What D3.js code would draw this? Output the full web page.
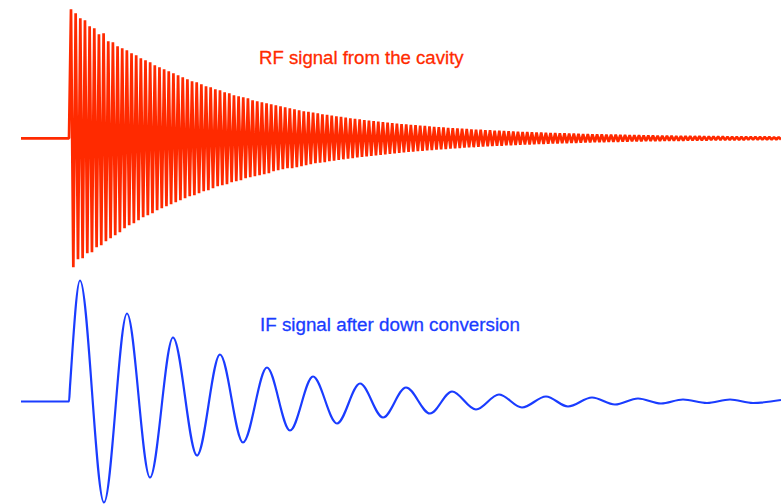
<!DOCTYPE html>
<html>
<head>
<meta charset="utf-8">
<script src="https://cdn.jsdelivr.net/npm/d3@7/dist/d3.min.js"></script>
<style>
  html, body { margin: 0; padding: 0; background: #fff; }
  svg { display: block; }
</style>
</head>
<body>
<svg id="chart" width="781" height="504"></svg>
<script>
// ---------------- data ----------------
// time axis (arbitrary ns), shared by both traces
const timeDomain = [0, 76];

// RF trace: flat lead-in, then alternating positive / negative extrema (one per half-cycle)
const rfLeadTime  = [0, 4.8];
const rfLeadValue = [0, 0];
const rfSampleSpan = [5.0, 76.0];   // time of the first and the last extremum
const rfSamples = [
  129,-129, 125,-121, 120,-120, 118,-115, 112,-114, 110,-109, 104,-107, 105,-103, 97,-100, 96,-97,
  92,-94, 90,-90, 88,-87, 85,-85, 83,-82, 80,-79, 78,-77, 76,-75, 73,-72, 71,-70,
  69,-68, 67,-66, 65,-64, 63,-62, 61,-60, 59,-58, 57,-57, 56,-55, 54,-53, 52,-52,
  51,-50, 49,-48, 48,-47, 46,-46, 45,-44, 43,-43, 42,-42, 41,-40, 40,-39, 38,-38,
  37,-37, 36,-36, 35,-35, 34,-33, 33,-32, 32,-31, 31,-30, 30,-30, 29,-29, 28,-28,
  27,-27, 26.5,-26, 25.7,-25, 25,-24.5, 24,-24, 23.4,-23, 22.7,-22.4, 22,-21.7, 21.4,-21, 20.7,-20.4,
  20,-19.8, 19.5,-19.2, 19,-18.6, 18.3,-18, 17.8,-17.5, 17.2,-17, 16.7,-16.5, 16.2,-16, 15.7,-15.5, 15.2,-15,
  14.8,-14.5, 14.3,-14.1, 13.9,-13.7, 13.5,-13.3, 13.1,-12.9, 12.7,-12.5, 12.3,-12.1, 11.9,-11.7, 11.5,-11.4, 11.2,-11,
  10.8,-10.7, 10.5,-10.4, 10.2,-10, 9.9,-9.7, 9.6,-9.4, 9.3,-9.1, 9,-8.9, 8.7,-8.6, 8.5,-8.3, 8.2,-8.1,
  8,-7.8, 7.7,-7.6, 7.5,-7.4, 7.3,-7.1, 7,-6.9, 6.8,-6.7, 6.6,-6.5, 6.4,-6.3, 6.2,-6.1, 6,-5.9,
  5.8,-5.7, 5.7,-5.6, 5.5,-5.4, 5.3,-5.2, 5.2,-5.1, 5,-4.9, 4.9,-4.8, 4.7,-4.6, 4.6,-4.5, 4.4,-4.3,
  4.3,-4.2, 4.2,-4.1, 4,-3.9, 3.9,-3.8, 3.8,-3.7, 3.7,-3.6, 3.6,-3.5, 3.5,-3.4, 3.4,-3.3, 3.3,-3.2,
  3.2,-3.1, 3.1,-3, 3,-2.9, 2.9,-2.8, 2.8,-2.7, 2.7,-2.6, 2.6,-2.6, 2.5,-2.5, 2.5,-2.4, 2.4,-2.3,
  2.3,-2.3, 2.2,-2.2, 2.2,-2.1, 2.1,-2.1, 2,-2, 2,-1.9, 1.9,-1.9, 1.8,-1.8, 1.8,-1.8, 1.7,-1.7,
  1.7,-1.7, 1.6,-1.6, 1.6,-1.6, 1.5,-1.5, 1.5,-1.5, 1.5,-1.4, 1.4,-1.4, 1.4,-1.4, 1.3,-1.3, 1.3,-1.3,
  1.3,-1.3, 1.2,-1.2, 1.2,-1.2
];

// IF trace: lead-in, step, then peaks / troughs
const ifTime  = [0, 4.8, 4.9, 5.9, 8.3, 10.6, 12.9, 15.2, 17.6, 19.9, 22.2, 24.6, 26.9, 29.2, 31.6,
                 33.9, 36.2, 38.5, 40.9, 43.1, 45.5, 47.8, 50.1, 52.5, 54.7, 57.1, 59.4, 61.7, 64.0,
                 66.2, 68.6, 70.9, 73.2, 76.0];
const ifValue = [0, 0, 15, 121, -101, 88, -76, 64, -54, 47, -41, 34, -29, 25, -22,
                 18, -16, 14, -12, 10, -8, 7, -6, 5, -5, 4, -3, 3, -2,
                 2, -1.5, 2, -1.5, 1.5];

const labels = ["RF signal from the cavity", "IF signal after down conversion"];
const colors = ["#ff2a00", "#1a3cff"];

// ---------------- drawing ----------------
const svg = d3.select("#chart");
const x = d3.scaleLinear().domain(timeDomain).range([21, 781]);
const yRF = d3.scaleLinear().domain([-150, 150]).range([288.3, -11.7]);
const yIF = d3.scaleLinear().domain([-150, 150]).range([551.5, 251.5]);

const rfIdx = d3.scalePoint()
  .domain(d3.range(rfSamples.length))
  .range([x(rfSampleSpan[0]), x(rfSampleSpan[1])]);

const rfPoints = rfLeadTime.map((t, i) => [x(t), yRF(rfLeadValue[i])])
  .concat(rfSamples.map((v, i) => [rfIdx(i), yRF(v)]));

svg.append("path")
  .attr("d", d3.line()(rfPoints))
  .attr("fill", "none")
  .attr("stroke", colors[0])
  .attr("stroke-width", 2.7)
  .attr("stroke-linejoin", "bevel");

const ifPoints = ifTime.map((t, i) => [x(t), yIF(ifValue[i])]);
svg.append("path")
  .attr("d", d3.line().curve(d3.curveMonotoneX)(ifPoints))
  .attr("fill", "none")
  .attr("stroke", colors[1])
  .attr("stroke-width", 2.2);

svg.append("text")
  .attr("x", 259).attr("y", 63.5)
  .attr("fill", colors[0])
  .attr("stroke", colors[0]).attr("stroke-width", 0.3)
  .style("font-family", "'Liberation Sans', Arial, Helvetica, sans-serif")
  .style("font-size", "18.6px")
  .text(labels[0]);

svg.append("text")
  .attr("x", 260).attr("y", 331)
  .attr("fill", colors[1])
  .attr("stroke", colors[1]).attr("stroke-width", 0.3)
  .style("font-family", "'Liberation Sans', Arial, Helvetica, sans-serif")
  .style("font-size", "18.8px")
  .text(labels[1]);
</script>
</body>
</html>
